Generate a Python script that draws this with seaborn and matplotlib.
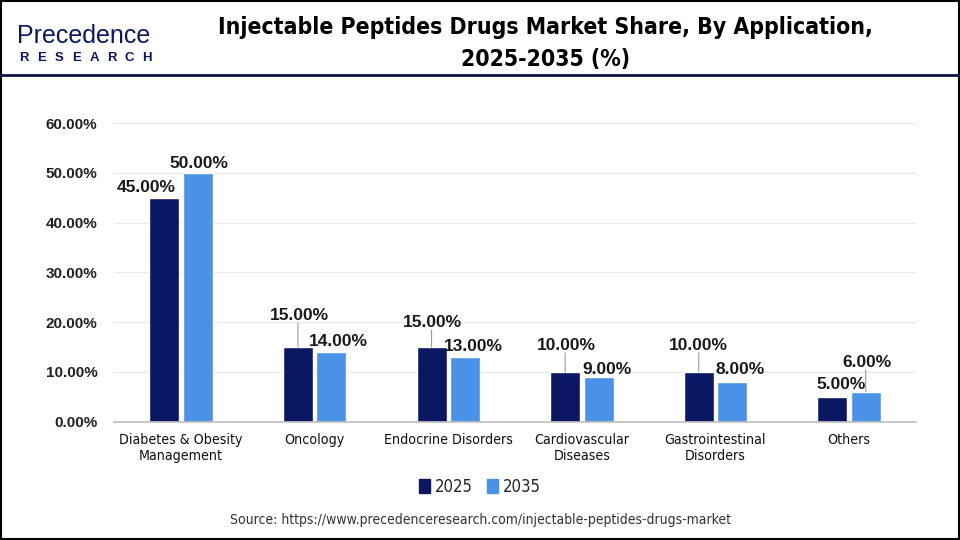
import numpy as np
import pandas as pd
import matplotlib
matplotlib.use("Agg")
import matplotlib.pyplot as plt
from matplotlib.lines import Line2D
from matplotlib.patches import Rectangle
import seaborn as sns

# data
categories = ["Diabetes & Obesity\nManagement", "Oncology", "Endocrine Disorders",
              "Cardiovascular\nDiseases", "Gastrointestinal\nDisorders", "Others"]
share_2025 = [45.0, 15.0, 15.0, 10.0, 10.0, 5.0]
share_2035 = [50.0, 14.0, 13.0, 9.0, 8.0, 6.0]
years = ["2025", "2035"]

df = pd.DataFrame({
    "Application": categories * 2,
    "Year": [years[0]] * len(categories) + [years[1]] * len(categories),
    "Share": share_2025 + share_2035,
})

# label offsets in pixels (dx, dy) and whether a leader line is drawn
offsets_2025 = [(-18, 3, False), (1, 24, True), (1, 17, True), (1, 19, True), (0, 19, True), (9, 5, False)]
offsets_2035 = [(1, 2, False), (7, 3, False), (8, 3, False), (8, 0, False), (8, 5, False), (1, 22, True)]

navy = "#0b1763"
blue = "#4a92e8"
narrow = ["DejaVu Sans"]
arial = ["Liberation Sans", "DejaVu Sans"]

sns.set_theme(style="white")
plt.rcParams["font.family"] = arial

fig = plt.figure(figsize=(9.6, 5.4), dpi=100)
ax = fig.add_axes([0.119, 0.219, 0.835, 0.553])

sns.barplot(data=df, x="Application", y="Share", hue="Year", palette=[navy, blue],
            width=0.5, gap=0.1, ax=ax, legend=False, saturation=1)

ax.set_ylim(0, 60)
ax.set_xlim(-0.5, 5.5)
ax.set_yticks(np.arange(0, 61, 10))
ax.set_yticklabels([f"{v:.2f}%" for v in np.arange(0, 61, 10)], fontsize=11,
                   fontweight="bold", color="#222222")
ax.tick_params(axis="y", length=0, pad=12)
ax.yaxis.grid(True, color="#e9e9e9", linewidth=0.9)
ax.set_axisbelow(True)
ax.set_xlabel("")
ax.set_ylabel("")
for s in ["left", "right", "top"]:
    ax.spines[s].set_visible(False)
ax.spines["bottom"].set_color("#bfbfbf")
ax.spines["bottom"].set_linewidth(1.2)

ax.set_xticks(range(len(categories)))
ax.set_xticklabels(categories, family=narrow, fontstretch="condensed", fontsize=10.2,
                   color="#111111")
ax.tick_params(axis="x", length=0, pad=8)
ax.set_xticks(np.arange(-0.5, len(categories)), minor=True)
ax.tick_params(axis="x", which="minor", length=5, color="#bfbfbf", width=1.0)

# value labels
bars = ax.patches
for bar_group, offs in [(bars[:len(categories)], offsets_2025), (bars[len(categories):], offsets_2035)]:
    for bar, (dx, dy, leader) in zip(bar_group, offs):
        x = bar.get_x() + bar.get_width() / 2
        y = bar.get_height()
        ax.annotate(f"{y:.2f}%", xy=(x, y), xytext=(dx, dy), textcoords="offset pixels",
                    ha="center", va="bottom", fontsize=12.5, fontweight="bold", color="#1a1a1a")
        if leader:
            ax.annotate("", xy=(x, y), xytext=(0, dy), textcoords="offset pixels",
                        arrowprops=dict(arrowstyle="-", color="#9a9a9a", lw=0.8,
                                        shrinkA=0, shrinkB=0))

# legend
handles = [Rectangle((0, 0), 1, 1, color=navy), Rectangle((0, 0), 1, 1, color=blue)]
fig.legend(handles, years, loc="center", bbox_to_anchor=(0.5, 0.098), ncol=2, frameon=False,
           handlelength=0.7, handleheight=0.9, handletextpad=0.3, columnspacing=0.8,
           prop={"family": narrow, "size": 12, "stretch": "condensed"})

# header
fig.text(0.568, 0.92, "Injectable Peptides Drugs Market Share, By Application,\n2025-2035 (%)",
         ha="center", va="center", family=narrow, fontstretch="condensed", fontweight="bold",
         fontsize=16.5, color="#000000", linespacing=1.5)
fig.text(0.018, 0.934, "Precedence", ha="left", va="center", fontsize=18, color=navy,
         family=arial)
for i, letter in enumerate("RESEARCH"):
    fig.text((24 + i * 17.5) / 960, 0.893, letter, ha="center", va="center", fontsize=9.5,
             color=navy, fontweight="bold", family=arial)
fig.add_artist(Line2D([0, 1], [0.862, 0.862], transform=fig.transFigure, color="#0d1440", lw=2))

# source
fig.text(0.5, 0.037, "Source: https://www.precedenceresearch.com/injectable-peptides-drugs-market",
         ha="center", va="center", family=narrow, fontstretch="condensed", fontsize=10,
         color="#333333")

# frame around the figure
fig.add_artist(Rectangle((0.001, 0.002), 0.998, 0.996, transform=fig.transFigure,
                         fill=False, edgecolor="#000000", lw=1.5))

fig.savefig("out.png", dpi=100)
